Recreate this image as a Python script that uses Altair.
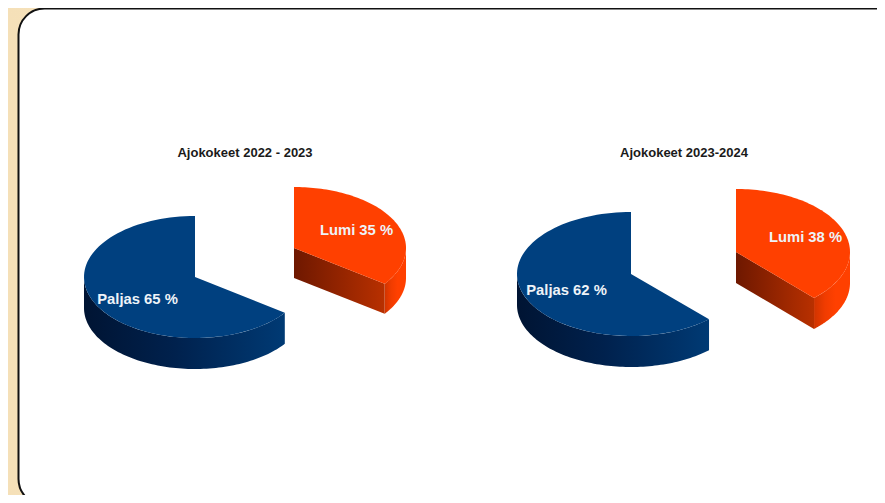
import math
import altair as alt
import pandas as pd

# Shares
TITLES = ["Ajokokeet 2022 - 2023", "Ajokokeet 2023-2024"]
SNOW_SHARE = [35, 38]
BARE_SHARE = [65, 62]
BARE_LABELS = ["Paljas 65 %", "Paljas 62 %"]
SNOW_LABELS = ["Lumi 35 %", "Lumi 38 %"]

# Pie geometry (apex, radii, depth) in page pixels
BARE_GEOM = [(195, 277, 111, 61, 31), (631, 274, 114, 62, 31)]
SNOW_GEOM = [(294, 248, 112, 61, 30), (736, 252, 114, 63, 31)]
TITLE_POS = [(245, 153), (684, 153)]
BARE_LABEL_POS = [(137.5, 300), (566.5, 291)]
SNOW_LABEL_POS = [(356.5, 231), (805.5, 238)]

W, H = 869, 487
xs = alt.Scale(domain=[8, 8 + W], range=[0, W])
ys = alt.Scale(domain=[8, 8 + H], range=[0, H])
X = alt.X("x:Q", scale=xs, axis=None)
Y = alt.Y("y:Q", scale=ys, axis=None)


def pt(g, deg, drop=0.0):
    cx, cy, rx, ry, _ = g
    a = math.radians(deg)
    return cx + rx * math.sin(a), cy - ry * math.cos(a) + drop


def arc(g, a0, a1, drop=0.0, n=90):
    return [pt(g, a0 + (a1 - a0) * i / n, drop) for i in range(n + 1)]


def poly(points, fill):
    df = pd.DataFrame(points, columns=["x", "y"])
    df["o"] = range(len(df))
    return (
        alt.Chart(df)
        .mark_line(fill=fill, filled=True, strokeWidth=0, interpolate="linear", clip=False)
        .encode(x=X, y=Y, order="o:Q")
    )


def grad(stops):
    return alt.Gradient(
        gradient="linear",
        x1=0, x2=1, y1=0, y2=0,
        stops=[alt.GradientStop(offset=o, color=c) for o, c in stops],
    )


layers = []

page = pd.DataFrame({"x": [8], "x2": [8 + W], "y": [8], "y2": [8 + H]})
layers.append(
    alt.Chart(page)
    .mark_rect(fill=grad([(0, "#f5e0b8"), (1, "#fbf0dd")]))
    .encode(x=X, x2="x2:Q", y=Y, y2="y2:Q")
)
card = pd.DataFrame({"x": [18.5], "x2": [905], "y": [8.5], "y2": [505]})
layers.append(
    alt.Chart(card)
    .mark_rect(fill="white", stroke="#111111", strokeWidth=2, cornerRadius=26)
    .encode(x=X, x2="x2:Q", y=Y, y2="y2:Q")
)

BLUE = "#00407f"
RED = "#ff4000"
for i in range(2):
    # bare ground slice: runs counter-clockwise from 12 o'clock
    g = BARE_GEOM[i]
    end = BARE_SHARE[i] * 3.6
    start = 360 - end  # clockwise angle of its lower tip
    d = g[4]
    wall = arc(g, 270, start) + arc(g, start, 270, d)
    layers.append(poly(wall, grad([(0, "#001433"), (0.45, "#00214d"), (1, "#003a74")])))
    top = [(g[0], g[1])] + arc(g, start, 360)
    layers.append(poly(top, BLUE))

    # snow slice: runs clockwise from 12 o'clock
    g = SNOW_GEOM[i]
    end = SNOW_SHARE[i] * 3.6
    d = g[4]
    outer = arc(g, 90, end) + arc(g, end, 90, d)
    layers.append(poly(outer, grad([(0, "#d03400"), (0.3, "#f03c00"), (0.6, "#ff4000"), (1, "#ff4000")])))
    tip = pt(g, end)
    inner = [(g[0], g[1]), tip, (tip[0], tip[1] + d), (g[0], g[1] + d)]
    layers.append(poly(inner, grad([(0, "#6e1800"), (1, "#b83000")])))
    top = [(g[0], g[1])] + arc(g, 0, end)
    layers.append(poly(top, RED))

titles = pd.DataFrame({"x": [p[0] for p in TITLE_POS], "y": [p[1] for p in TITLE_POS], "t": TITLES})
layers.append(
    alt.Chart(titles)
    .mark_text(font="Liberation Sans", fontSize=13, fontWeight="bold", color="#1a1a1a", align="center", baseline="middle")
    .encode(x=X, y=Y, text="t:N")
)
pos = BARE_LABEL_POS + SNOW_LABEL_POS
labels = pd.DataFrame({"x": [p[0] for p in pos], "y": [p[1] for p in pos], "t": BARE_LABELS + SNOW_LABELS})
layers.append(
    alt.Chart(labels)
    .mark_text(font="Liberation Sans", fontSize=14.8, fontWeight="bold", color="#eef3f8", align="center", baseline="middle")
    .encode(x=X, y=Y, text="t:N")
)

chart = (
    alt.layer(*layers)
    .properties(width=W, height=H, background="#f5e0b8", padding=0, autosize=alt.AutoSizeParams(type="none"))
    .configure_view(stroke=None)
)

chart.save("out.html", embed_options={"renderer": "svg", "actions": False})
